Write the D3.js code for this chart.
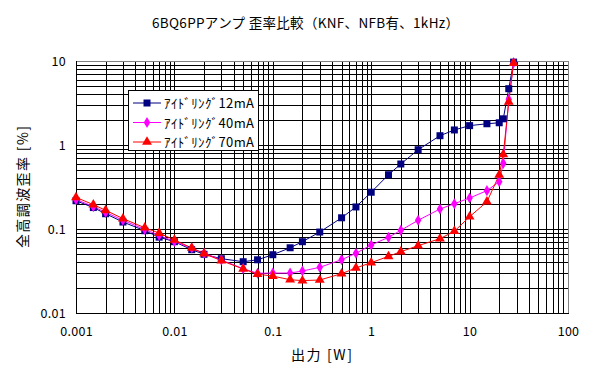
<!DOCTYPE html>
<html><head><meta charset="utf-8">
<script src="https://cdn.jsdelivr.net/npm/d3@7"></script>
<style>body{margin:0;background:#fff}svg{display:block}text{font-family:"Noto Sans CJK JP","Noto Sans",sans-serif;}</style>
</head><body><svg id="c" width="605" height="379"></svg>
<script>
const xValues12 = [0.001,0.0015,0.002,0.003,0.005,0.007,0.01,0.015,0.02,0.03,0.05,0.07,0.1,0.15,0.2,0.3,0.5,0.7,1,1.5,2,3,5,7,10,15,20,22,25,28];
const thd12 = [0.217,0.180,0.152,0.121,0.0955,0.080,0.0706,0.0567,0.050,0.0443,0.0408,0.043,0.0494,0.0598,0.0706,0.092,0.136,0.183,0.274,0.443,0.594,0.879,1.29,1.51,1.70,1.79,1.84,2.05,4.68,9.7];
const xValues40 = [0.001,0.0015,0.002,0.003,0.005,0.007,0.01,0.015,0.02,0.03,0.05,0.07,0.1,0.15,0.2,0.3,0.5,0.7,1,1.5,2,3,5,7,10,15,20,22,25,28];
const thd40 = [0.225,0.185,0.158,0.127,0.099,0.084,0.071,0.0594,0.0514,0.0428,0.0337,0.0297,0.0299,0.0299,0.0316,0.035,0.0431,0.0514,0.0645,0.0796,0.0965,0.127,0.173,0.200,0.234,0.286,0.366,0.605,3.5,9.5];
const xValues70 = [0.001,0.0015,0.002,0.003,0.005,0.007,0.01,0.015,0.02,0.03,0.05,0.07,0.1,0.15,0.2,0.3,0.5,0.7,1,1.5,2,3,5,7,10,15,20,22,25,28];
const thd70 = [0.238,0.195,0.167,0.133,0.1035,0.0895,0.074,0.0594,0.051,0.042,0.0334,0.029,0.0275,0.0249,0.0243,0.0247,0.0294,0.0344,0.0397,0.0473,0.0537,0.0633,0.0767,0.094,0.140,0.211,0.44,0.774,3.25,9.4];
const seriesNames = ["ｱｲﾄﾞﾘﾝｸﾞ12mA","ｱｲﾄﾞﾘﾝｸﾞ40mA","ｱｲﾄﾞﾘﾝｸﾞ70mA"];
const xTickLabels = ["0.001","0.01","0.1","1","10","100"];
const yTickLabels = ["0.01","0.1","1","10"];
const title = "6BQ6PPアンプ 歪率比較（KNF、NFB有、1kHz）";
const xTitle = "出力 [W]";
const yTitle = "全高調波歪率 [%]";

const svg = d3.select("#c");
const L=76, R=568, T=61, B=313;
const x = d3.scaleLog().domain([0.001,100]).range([L,R]);
const y = d3.scaleLog().domain([0.01,10]).range([B,T]);

// grid
const g = svg.append("g").attr("shape-rendering","crispEdges");
const xg=[], yg=[];
for(let e=-3;e<2;e++) for(let m=1;m<10;m++) xg.push(m*Math.pow(10,e));
xg.push(100);
for(let e=-2;e<1;e++) for(let m=1;m<10;m++) yg.push(m*Math.pow(10,e));
yg.push(10);
g.selectAll("line.v").data(xg).join("line").attr("class","v")
 .attr("x1",d=>Math.round(x(d))+0.5).attr("x2",d=>Math.round(x(d))+0.5).attr("y1",T).attr("y2",B)
 .attr("stroke","#000").attr("stroke-width",1);
g.selectAll("line.h").data(yg).join("line").attr("class","h")
 .attr("y1",d=>Math.round(y(d))+0.5).attr("y2",d=>Math.round(y(d))+0.5).attr("x1",L).attr("x2",R)
 .attr("stroke","#000").attr("stroke-width",1);
// border
g.append("line").attr("x1",L).attr("x2",R).attr("y1",T+0.5).attr("y2",T+0.5).attr("stroke","#808080");
g.append("line").attr("x1",R+0.5).attr("x2",R+0.5).attr("y1",T).attr("y2",B).attr("stroke","#808080");
g.append("line").attr("x1",L+0.5).attr("x2",L+0.5).attr("y1",T).attr("y2",B+1).attr("stroke","#000");
g.append("line").attr("x1",L).attr("x2",R+1).attr("y1",B+0.5).attr("y2",B+0.5).attr("stroke","#000");

// axes labels
const xAxis = d3.axisBottom(x).tickValues(xTickLabels.map(Number)).tickSize(0).tickPadding(14)
  .tickFormat((d,i)=>xTickLabels[i]);
const ax = svg.append("g").attr("transform",`translate(0,${B})`).call(xAxis);
ax.select(".domain").remove();
ax.selectAll("text").attr("font-size",12.5).attr("fill","#000").attr("font-family",'"Noto Sans CJK JP",sans-serif').attr("letter-spacing",0.3);
const yAxis = d3.axisLeft(y).tickValues(yTickLabels.map(Number)).tickSize(0).tickPadding(10)
  .tickFormat((d,i)=>yTickLabels[i]);
const ay = svg.append("g").attr("transform",`translate(${L},0)`).call(yAxis);
ay.select(".domain").remove();
ay.selectAll("text").attr("font-size",12.5).attr("fill","#000").attr("font-family",'"Noto Sans CJK JP",sans-serif').attr("letter-spacing",0.3);

// series
const colors = ["#000080","#ff00ff","#ff0000"];
const data = [[xValues12,thd12],[xValues40,thd40],[xValues70,thd70]];
const line = d3.line().x(d=>x(d[0])).y(d=>y(d[1]));
const sym = [d3.symbol().type(d3.symbolSquare).size(49), d3.symbol().type(d3.symbolDiamond).size(36), d3.symbol().type(d3.symbolTriangle).size(42)];
data.forEach((s,i)=>{
  const pts = s[0].map((v,j)=>[v,s[1][j]]);
  svg.append("path").datum(pts).attr("d",line).attr("fill","none").attr("stroke",colors[i]).attr("stroke-width",1);
});
data.forEach((s,i)=>{
  const pts = s[0].map((v,j)=>[v,s[1][j]]);
  svg.append("g").selectAll("path").data(pts).join("path")
    .attr("transform",d=>`translate(${x(d[0])},${y(d[1])})`).attr("d",sym[i]).attr("fill",colors[i]);
});

// legend
const lg = svg.append("g");
lg.append("rect").attr("x",128.5).attr("y",90.5).attr("width",130).attr("height",60).attr("fill","#fff").attr("stroke","#000");
seriesNames.forEach((n,i)=>{
  const yy = 103 + i*19.5;
  lg.append("line").attr("x1",133).attr("x2",161).attr("y1",yy).attr("y2",yy).attr("stroke",colors[i]);
  lg.append("path").attr("transform",`translate(147,${yy})`).attr("d",sym[i]).attr("fill",colors[i]);
  lg.append("text").attr("x",164).attr("y",yy+5).attr("font-size",13).attr("textLength",90).attr("lengthAdjust","spacing").text(n);
});

// titles
svg.append("text").attr("x",152).attr("y",28).attr("font-size",13.5).attr("textLength",307).attr("lengthAdjust","spacing").text(title);
svg.append("text").attr("x",291).attr("y",360).attr("font-size",14).attr("textLength",61).attr("lengthAdjust","spacing").text(xTitle);
svg.append("text").attr("transform","translate(28,248) rotate(-90)").attr("font-size",14).attr("textLength",122).attr("lengthAdjust","spacing").text(yTitle);
</script></body></html>
